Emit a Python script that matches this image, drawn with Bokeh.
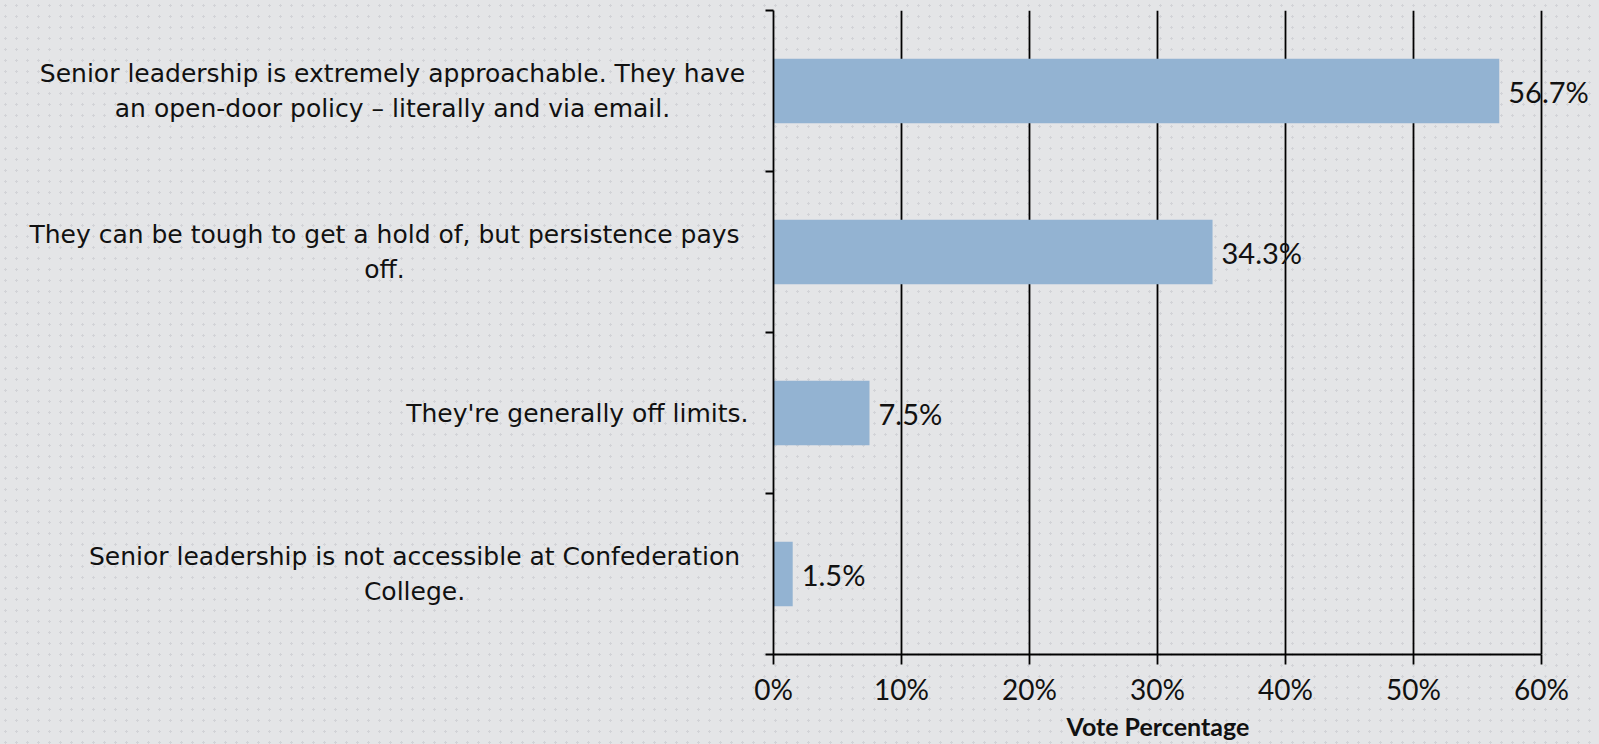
from bokeh.plotting import figure
from bokeh.layouts import row
from bokeh.models import ColumnDataSource, LabelSet, FixedTicker, Range1d, Title
from bokeh.core.properties import value
from bokeh.embed import file_html
from bokeh.resources import INLINE

# ---------------- data ----------------
categories = [
    "Senior leadership is extremely approachable. They have\nan open-door policy \u2013 literally and via email.",
    "They can be tough to get a hold of, but persistence pays\noff.",
    "They're generally off limits.",
    "Senior leadership is not accessible at Confederation\nCollege.",
]
values = [0.567, 0.343, 0.075, 0.015]
value_labels = ["56.7%", "34.3%", "7.5%", "1.5%"]
x_ticks = [0.0, 0.1, 0.2, 0.3, 0.4, 0.5, 0.6]
x_tick_labels = ["0%", "10%", "20%", "30%", "40%", "50%", "60%"]
axis_title = "Vote Percentage"

# ---------------- styling ----------------
BG = "#e4e5e7"
DOT = "#d2d3d7"
BAR = "#93B3D2"
TXT = "#111111"
FONT = "Lato"
CAT_FONT = "DejaVu Sans"
LW = 1.8
LEFT_W = 753                                 # width of the label panel (px)
label_x = [392, 384, 748, 414]               # anchor of each label block in the label panel (px)
label_align = ["center", "center", "right", "center"]

n = len(categories)
ypos = [n - i - 0.5 for i in range(n)]

src = ColumnDataSource(dict(y=ypos, value=values, label=value_labels))
lab_src = ColumnDataSource(dict(y=ypos, text=categories, cx=label_x, align=label_align))

common = dict(output_backend="svg", toolbar_location=None, frame_height=644,
              min_border_top=10, min_border_bottom=90,
              background_fill_color=None, border_fill_color=None, outline_line_color=None)

# ---------- label panel ----------
pl = figure(frame_width=LEFT_W, x_range=Range1d(0, LEFT_W), y_range=Range1d(0, n),
            min_border_left=0, min_border_right=0,
            x_axis_location=None, y_axis_location=None, **common)
pl.grid.visible = False
pl.text(x="cx", y="y", text="text", source=lab_src,
        text_align="align", text_baseline="middle",
        text_font=value(CAT_FONT), text_font_size="25px", text_color=TXT,
        text_line_height=1.2)

# ---------- chart ----------
p = figure(frame_width=816, x_range=Range1d(0, 0.6375), y_range=pl.y_range,
           min_border_left=773 - LEFT_W, min_border_right=10, **common)

p.hbar(y="y", right="value", left=0, height=0.4, fill_color=BAR, line_color=None, source=src)

p.ygrid.visible = False
p.xgrid.ticker = FixedTicker(ticks=x_ticks)
p.xgrid.grid_line_color = "black"
p.xgrid.grid_line_width = LW

xa = p.xaxis[0]
xa.ticker = FixedTicker(ticks=x_ticks)
xa.bounds = (x_ticks[0], x_ticks[-1])
xa.major_label_overrides = {t: l for t, l in zip(x_ticks, x_tick_labels)}
xa.axis_line_color = "black"
xa.axis_line_width = LW
xa.major_tick_line_color = "black"
xa.major_tick_line_width = LW
xa.major_tick_out = 10
xa.major_tick_in = 0
xa.minor_tick_line_color = None
xa.major_label_text_font = FONT
xa.major_label_text_font_size = "28px"
xa.major_label_text_color = TXT
xa.major_label_standoff = 7

# axis title, centred under the 0-60 % span
p.add_layout(Title(text=axis_title, align="left", offset=293, standoff=0,
                   text_font=FONT, text_font_style="bold", text_font_size="25px",
                   text_color=TXT), "below")

ya = p.yaxis[0]
ya.ticker = FixedTicker(ticks=list(range(n + 1)))
ya.major_label_text_font_size = "0px"
ya.major_label_text_color = None
ya.axis_line_color = "black"
ya.axis_line_width = LW
ya.major_tick_line_color = "black"
ya.major_tick_line_width = LW
ya.major_tick_out = 8
ya.major_tick_in = 0
ya.minor_tick_line_color = None

p.add_layout(LabelSet(
    x="value", y="y", text="label", source=src, x_offset=9,
    text_baseline="middle", text_font=value(FONT), text_font_size="29px", text_color=TXT,
))

layout = row(pl, p, spacing=0)
layout.styles = {
    "background-color": BG,
    "background-image": f"radial-gradient(circle, {DOT} 1px, transparent 1.3px)",
    "background-size": "11px 11px",
}
open("out.html", "w").write(file_html(layout, INLINE))
